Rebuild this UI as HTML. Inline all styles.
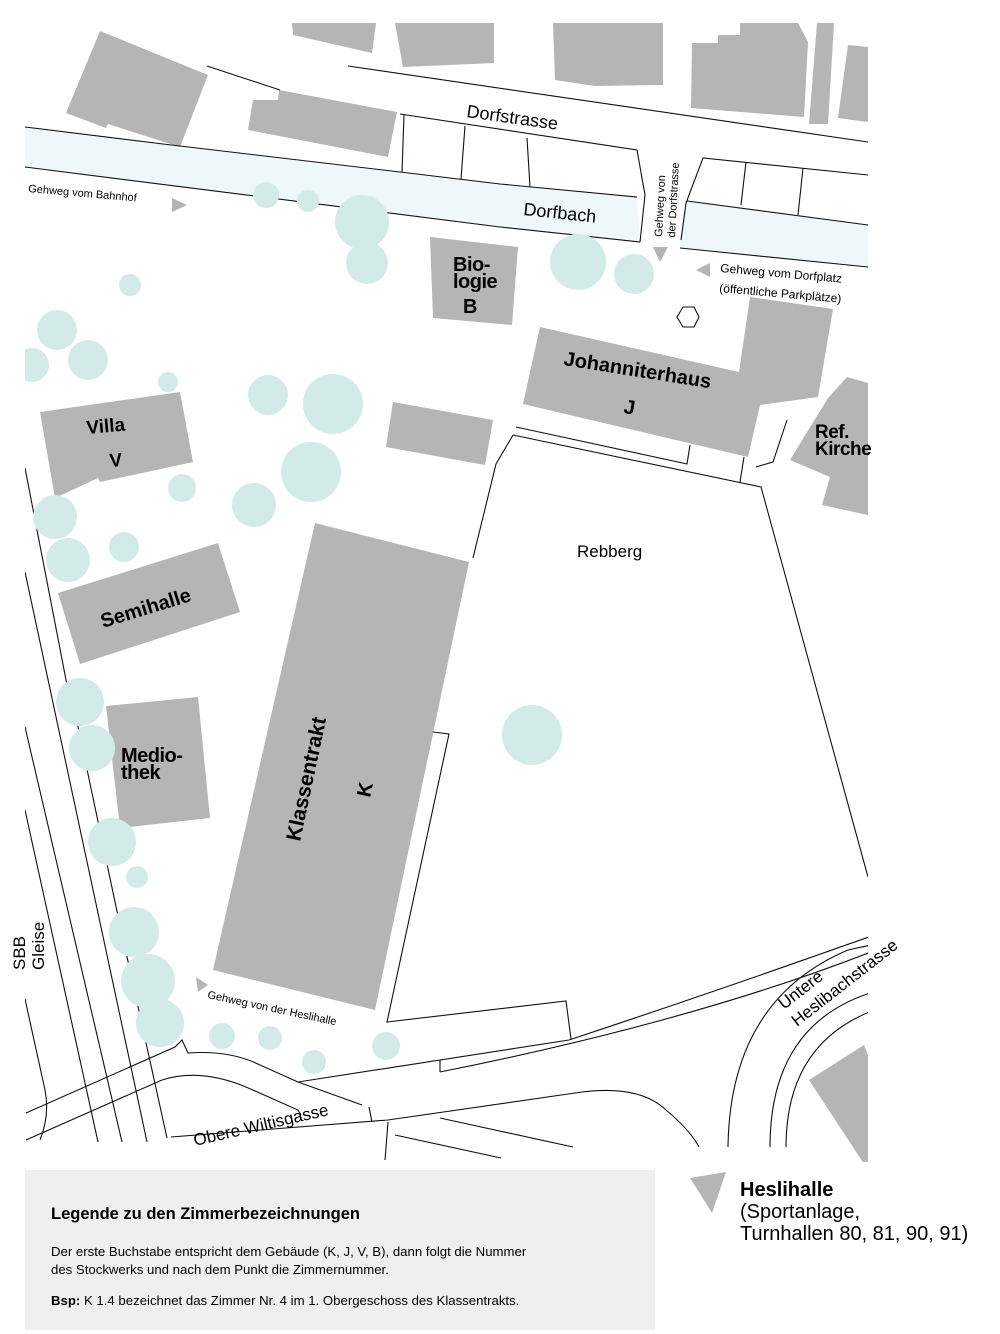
<!DOCTYPE html>
<html><head><meta charset="utf-8"><style>
html,body{margin:0;padding:0;background:#fff}
svg{display:block}
text{font-family:"Liberation Sans",sans-serif;fill:#000}
.b{font-weight:bold}
</style></head><body>
<svg width="1000" height="1334" viewBox="0 0 1000 1334" xmlns="http://www.w3.org/2000/svg">
<defs><clipPath id="m"><rect x="25" y="0" width="843" height="1162"/></clipPath></defs>
<g clip-path="url(#m)">
<polygon points="25,127 163,144 400,172 500,184 637,197 640,242 500,227 25,167" fill="#eef7fa"/>
<polygon points="687,201 868,225 868,267 680,248" fill="#eef7fa"/>
<g fill="#b5b5b5">
<polygon points="100,31 208,75 180,147 108,124 106,128 66,113"/>
<polygon points="253,100 278,100 279,90 397,112 388,157 248,130"/>
<polygon points="292,23 376,23 372,53 293,35"/>
<polygon points="395,23 494,23 494,63 403,67"/>
<polygon points="553,23 663,23 663,85 595,86 555,80"/>
<polygon points="692,43 718,43 718,35 740,35 740,23 798,23 808,42 804,117 691,108"/>
<polygon points="817,23 834,23 828,124 809,124"/>
<polygon points="848,45 868,47 868,122 838,118"/>
<polygon points="430,237 518,247 512,325 433,318"/>
<polygon points="540,327 739,372 750,297 833,309 818,397 760,405 748,457 523,404"/>
<polygon points="847,377 868,383 868,515 822,505 830,477 790,460 828,398"/>
<polygon points="40,412 180,392 193,462 100,482 98,478 55,498"/>
<polygon points="58,593 218,543 240,612 80,664"/>
<polygon points="106,706 198,697 210,818 120,828"/>
<polygon points="315,523 469,562 375,1010 213,970"/>
<polygon points="393,402 493,420 485,465 386,447"/>
<polygon points="864,1045 868,1055 868,1170 809,1080"/>
</g>
<g fill="none" stroke="#111" stroke-width="1.1">
<polyline points="207,66 280,90"/>
<polyline points="348,66 868,142"/>
<polyline points="25,127 163,144 400,172 500,184 637,197"/>
<polyline points="25,167 500,227 640,242"/>
<polyline points="687,201 868,225"/>
<polyline points="680,248 868,267"/>
<polyline points="400,114 637,150 645,195 640,242"/>
<polyline points="404,115 402,172"/>
<polyline points="465,126 461,179"/>
<polyline points="527,138 530,187"/>
<polyline points="681,240 686,203 703,158 868,175"/>
<polyline points="746,162 741,205"/>
<polyline points="803,168 798,215"/>
<polyline points="516,427 687,464 690,445"/>
<polyline points="513,435 761,487 868,877"/>
<polyline points="513,435 496,464 473,558"/>
<polyline points="740,482 744,457"/>
<polyline points="756,467 773,462 787,420"/>
<polyline points="433,732 449,734 387,1022 566,1001 571,1039"/>
<!-- rails -->
<polyline points="25,468 67,685"/>
<polyline points="77,722 118,916 167,1138"/>
<polyline points="25,572 147,1142"/>
<polyline points="25,727 122,1142"/>
<polyline points="25,810 98,1142"/>
<path d="M25,999 L45,1090 Q50,1115 40,1140"/>
<!-- roads -->
<path d="M26,1113 L175,1047 L182,1040 L188,1053 Q230,1050 260,1065 L298,1082 L362,1105"/>
<path d="M298,1082 L569,1040 Q720,990 880,933"/>
<path d="M440,1072 Q700,1020 881,948"/>
<polyline points="440,1060 440,1072"/>
<path d="M26,1140 L162,1080 Q200,1068 246,1087 L298,1110 L301,1115"/>
<path d="M171,1137 L388,1120 L582,1092 Q640,1085 666,1110 Q690,1130 699,1147"/>
<polyline points="369,1107 372,1122"/>
<polyline points="388,1122 385,1160"/>
<polyline points="395,1135 501,1158"/>
<polyline points="440,1118 573,1147"/>
<path d="M728,1147 Q730,1000 848,950 L880,943"/>
<path d="M770,1147 Q770,1020 880,990"/>
<path d="M786,1147 Q786,1040 880,1008"/>
<polyline points="877,1013 880,1027"/>
</g>
<g fill="#d3ebe8">
<circle cx="266" cy="195" r="13"/><circle cx="308" cy="201" r="11"/><circle cx="362" cy="222" r="27"/><circle cx="367" cy="263" r="21"/>
<circle cx="578" cy="262" r="28"/><circle cx="634" cy="274" r="20"/><circle cx="130" cy="285" r="11"/><circle cx="57" cy="330" r="20"/>
<circle cx="32" cy="365" r="17"/><circle cx="88" cy="360" r="20"/><circle cx="168" cy="382" r="10"/><circle cx="268" cy="395" r="20"/>
<circle cx="333" cy="404" r="30"/><circle cx="311" cy="472" r="30"/><circle cx="254" cy="505" r="22"/><circle cx="182" cy="488" r="14"/>
<circle cx="55" cy="517" r="22"/><circle cx="124" cy="547" r="15"/><circle cx="68" cy="560" r="22"/><circle cx="80" cy="702" r="24"/>
<circle cx="92" cy="748" r="23"/><circle cx="112" cy="842" r="24"/><circle cx="137" cy="877" r="11"/><circle cx="134" cy="932" r="25"/>
<circle cx="148" cy="981" r="27"/><circle cx="160" cy="1023" r="24"/><circle cx="222" cy="1036" r="13"/><circle cx="270" cy="1038" r="12"/>
<circle cx="314" cy="1062" r="12"/><circle cx="386" cy="1046" r="14"/><circle cx="532" cy="735" r="30"/>
</g>
<polygon points="677,317 683,307 694,307 699,317 694,327 683,327" fill="none" stroke="#111" stroke-width="1.1"/>
<g fill="#b5b5b5">
<polygon points="172,198 187,205 172,212"/>
<polygon points="653,247 668,247 660,262"/>
<polygon points="696,270 710,263 710,277"/>
<polygon points="196,977 208,985 198,992"/>
</g>
</g>
<polygon points="690,1178 726,1172 712,1213" fill="#b5b5b5"/>
<text x="466" y="117" font-size="18" transform="rotate(8 466 117)">Dorfstrasse</text>
<text x="523" y="215" font-size="18" transform="rotate(6 523 215)">Dorfbach</text>
<text x="28" y="192" font-size="11" transform="rotate(5 28 192)">Gehweg vom Bahnhof</text>
<text font-size="11" transform="translate(662,237) rotate(-87)"><tspan x="0" y="0">Gehweg von</tspan><tspan x="0" y="13">der Dorfstrasse</tspan></text>
<text x="720" y="272" font-size="12" transform="rotate(5 720 272)">Gehweg vom Dorfplatz</text>
<text x="719" y="292" font-size="12" transform="rotate(5 719 292)">(öffentliche Parkplätze)</text>
<text class="b" font-size="20" letter-spacing="-0.5"><tspan x="453" y="271">Bio-</tspan><tspan x="453" y="288">logie</tspan><tspan x="463" y="313">B</tspan></text>
<text class="b" x="563" y="365" font-size="20" transform="rotate(9 563 365)">Johanniterhaus</text>
<text class="b" x="623" y="413" font-size="20" transform="rotate(9 623 413)">J</text>
<text class="b" x="87" y="434" font-size="19" transform="rotate(-5 87 434)">Villa</text>
<text class="b" x="110" y="467" font-size="19" transform="rotate(-5 110 467)">V</text>
<text class="b" font-size="19" letter-spacing="-0.5"><tspan x="815" y="438">Ref.</tspan><tspan x="815" y="455">Kirche</tspan></text>
<text class="b" x="103" y="628" font-size="20" transform="rotate(-17 103 628)">Semihalle</text>
<text class="b" font-size="20" letter-spacing="-0.5"><tspan x="121" y="762">Medio-</tspan><tspan x="121" y="779">thek</tspan></text>
<text class="b" x="300" y="842" font-size="21" transform="rotate(-78 300 842)">Klassentrakt</text>
<text class="b" x="370" y="798" font-size="20" transform="rotate(-78 370 798)">K</text>
<text x="577" y="557" font-size="17">Rebberg</text>
<text font-size="17" transform="translate(0,970) rotate(-90)"><tspan x="0" y="25">SBB</tspan><tspan x="0" y="44">Gleise</tspan></text>
<text x="207" y="998" font-size="11" transform="rotate(12 207 998)">Gehweg von der Heslihalle</text>
<text x="195" y="1146" font-size="17" transform="rotate(-13 195 1146)">Obere Wiltisgasse</text>
<text x="784" y="1010" font-size="17" transform="rotate(-38 784 1010)">Untere</text>
<text x="797" y="1027" font-size="17" transform="rotate(-38 797 1027)">Heslibachstrasse</text>
<text class="b" x="740" y="1196" font-size="20">Heslihalle</text>
<text x="740" y="1218" font-size="20">(Sportanlage,</text>
<text x="740" y="1240" font-size="20">Turnhallen 80, 81, 90, 91)</text>
<rect x="25" y="1170" width="630" height="160" fill="#efefef"/>
<text class="b" x="51" y="1219" font-size="16.5">Legende zu den Zimmerbezeichnungen</text>
<text x="51" y="1256" font-size="13.2">Der erste Buchstabe entspricht dem Gebäude (K, J, V, B), dann folgt die Nummer</text>
<text x="51" y="1274" font-size="13.2">des Stockwerks und nach dem Punkt die Zimmernummer.</text>
<text x="51" y="1305" font-size="13.2"><tspan font-weight="bold">Bsp:</tspan> K 1.4 bezeichnet das Zimmer Nr. 4 im 1. Obergeschoss des Klassentrakts.</text>
</svg>
</body></html>
